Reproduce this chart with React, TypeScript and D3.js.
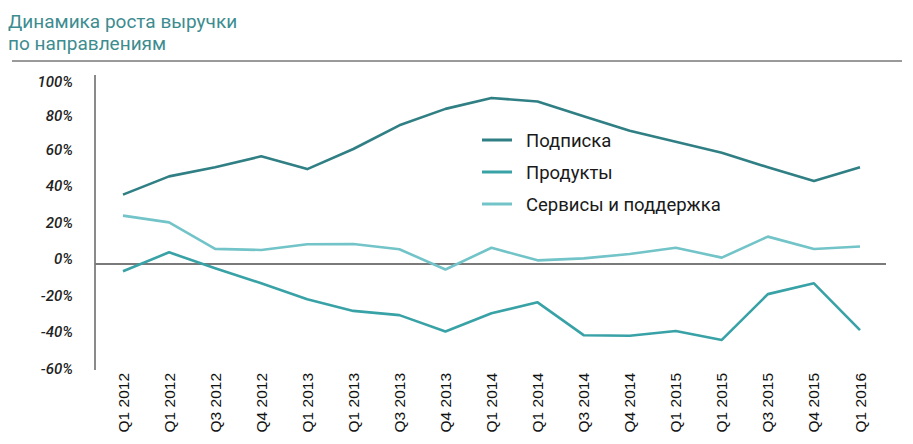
import React from 'react';
import * as d3 from 'd3';

const quarters = [
    'Q1 2012', 'Q1 2012', 'Q3 2012', 'Q4 2012', 'Q1 2013', 'Q1 2013',
    'Q3 2013', 'Q4 2013', 'Q1 2014', 'Q1 2014', 'Q3 2014', 'Q4 2014',
    'Q1 2015', 'Q1 2015', 'Q3 2015', 'Q4 2015', 'Q1 2016',
];

const subscription = [38, 48, 53, 59, 52, 63, 76, 85, 91, 89, 81, 73, 67, 61, 53, 45.5, 53];
const products = [-4, 6.4, -2.3, -10.6, -19.3, -25.7, -28, -37, -27, -21, -39, -39.3, -36.7, -41.6, -16.5, -10.6, -36.2];
const services = [26.5, 22.8, 8.3, 7.7, 10.8, 11, 8.1, -3, 8.9, 2, 3.1, 5.5, 8.9, 3.5, 15, 8.2, 9.6];

const yTicks = [100, 80, 60, 40, 20, 0, -20, -40, -60];

const seriesNames = ['Подписка', 'Продукты', 'Сервисы и поддержка'];
const seriesColors = ['#2f7f84', '#38a2a7', '#72c4c8'];

const W = 913;
const H = 444;

const App: React.FC = () => {
    const idx = quarters.map((_, i) => i);
    const x = d3.scalePoint<number>().domain(idx).range([123, 860]);
    const y = d3.scaleLinear().domain([-60, 100]).range([373.5, 81.5]);

    const line = d3
        .line<number>()
        .x((_, i) => x(i)!)
        .y((d) => y(d));

    const series = [subscription, products, services];

    return (
        <svg
            width={W}
            height={H}
            viewBox={`0 0 ${W} ${H}`}
            style={{ position: 'absolute', left: 0, top: 0, background: '#fff' }}
        >
            {/* title */}
            <g fontFamily="Roboto, sans-serif" fontSize={19} fill="#3d8c8f">
                <text x={8} y={28}>Динамика роста выручки</text>
                <text x={8} y={50}>по направлениям</text>
            </g>
            <line x1={12} x2={902} y1={61} y2={61} stroke="#9a9a9a" strokeWidth={2} />

            {/* y axis */}
            <line x1={95} x2={95} y1={75} y2={370} stroke="#8a8a8a" strokeWidth={2} />
            {yTicks.map((t) => (
                <text
                    key={t}
                    x={73}
                    y={y(t) + (t === 100 ? 5 : t === 80 ? 3 : 0)}
                    textAnchor="end"
                    fontFamily="Roboto, sans-serif"
                    fontStyle="italic"
                    fontWeight={500}
                    fontSize={15}
                    fill="#222"
                >
                    {t}%
                </text>
            ))}

            {/* zero line */}
            <line x1={95} x2={886} y1={y(0)} y2={y(0)} stroke="#7a7a7a" strokeWidth={2} />

            {/* series */}
            {series.map((s, i) => (
                <path
                    key={i}
                    d={line(s)!}
                    fill="none"
                    stroke={seriesColors[i]}
                    strokeWidth={2.6}
                    strokeLinejoin="round"
                />
            ))}

            {/* x labels */}
            {quarters.map((q, i) => (
                <text
                    key={i}
                    transform={`translate(${x(i)! + 5.5},373) rotate(-90)`}
                    textAnchor="end"
                    fontFamily="'Liberation Sans', Arial, sans-serif"
                    fontSize={15.5}
                    fill="#111"
                >
                    {q}
                </text>
            ))}

            {/* legend */}
            {seriesNames.map((n, i) => (
                <g key={n} transform={`translate(482,${140 + i * 32})`}>
                    <line x1={0} x2={30} y1={0} y2={0} stroke={seriesColors[i]} strokeWidth={3} />
                    <text
                        x={44}
                        y={6.5}
                        fontFamily="Roboto, sans-serif"
                        fontSize={18.5}
                        fill="#1a1a1a"
                    >
                        {n}
                    </text>
                </g>
            ))}
        </svg>
    );
};

export default App;
